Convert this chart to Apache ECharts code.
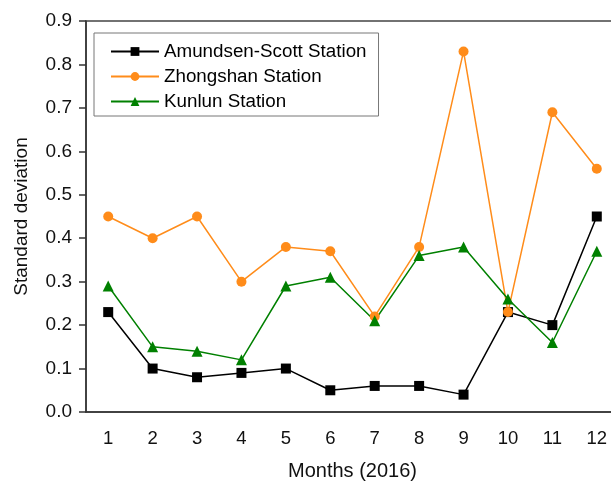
<!DOCTYPE html>
<html>
<head>
<meta charset="utf-8">
<script src="https://cdn.jsdelivr.net/npm/echarts@6/dist/echarts.min.js"></script>
<style>html,body{margin:0;padding:0;background:#fff}#c{width:611px;height:481px}</style>
</head>
<body>
<div id="c"></div>
<script>
const months = ['1','2','3','4','5','6','7','8','9','10','11','12'];
const amundsen = [0.23,0.10,0.08,0.09,0.10,0.05,0.06,0.06,0.04,0.23,0.20,0.45];
const zhongshan = [0.45,0.40,0.45,0.30,0.38,0.37,0.22,0.38,0.83,0.23,0.69,0.56];
const kunlun = [0.29,0.15,0.14,0.12,0.29,0.31,0.21,0.36,0.38,0.26,0.16,0.37];
const yTicks = { min: 0, max: 0.9, interval: 0.1 };

const FONT = 'Liberation Sans, Arial, sans-serif';
const chart = echarts.init(document.getElementById('c'));
function ser(name, data, color, symbol, size) {
  return {
    name, type: 'line', data, symbol, symbolSize: size,
    lineStyle: { color, width: 1.5 },
    itemStyle: { color },
    z: 3
  };
}
chart.setOption({
  animation: false,
  backgroundColor: '#fff',
  grid: { left: 86, right: -8, top: 21, bottom: 69, show: true, borderColor: '#444', borderWidth: 1.5,
          containLabel: false, outerBoundsMode: 'none' },
  legend: {
    orient: 'vertical', left: 94, top: 33,
    padding: [9, 12, 5, 16],
    itemWidth: 48, itemHeight: 11, itemGap: 6,
    borderColor: '#777', borderWidth: 1,
    textStyle: { fontFamily: FONT, fontSize: 18.8, color: '#000' },
    data: ['Amundsen-Scott Station','Zhongshan Station','Kunlun Station']
  },
  xAxis: {
    type: 'category', data: months, boundaryGap: true,
    name: 'Months (2016)', nameLocation: 'middle', nameGap: 49,
    nameTextStyle: { fontFamily: FONT, fontSize: 20, color: '#111' },
    axisLine: { lineStyle: { color: '#333', width: 1.5 } },
    axisTick: { alignWithLabel: true, length: 8, lineStyle: { color: '#333', width: 1.5 } },
    axisLabel: { fontFamily: FONT, fontSize: 18.5, color: '#111', margin: 17 },
    splitLine: { show: false }
  },
  yAxis: {
    type: 'value', min: yTicks.min, max: yTicks.max, interval: yTicks.interval,
    name: 'Standard deviation', nameLocation: 'middle', nameGap: 55,
    nameTextStyle: { fontFamily: FONT, fontSize: 19, color: '#111' },
    axisLine: { show: true, lineStyle: { color: '#333', width: 1.5 } },
    axisTick: { show: true, length: 7, lineStyle: { color: '#333', width: 1.5 } },
    axisLabel: { fontFamily: FONT, fontSize: 19, color: '#111', margin: 14, formatter: v => v.toFixed(1) },
    splitLine: { show: false }
  },
  series: [
    ser('Amundsen-Scott Station', amundsen, '#000000', 'rect', 10),
    ser('Zhongshan Station', zhongshan, '#ff8c1a', 'circle', 10),
    ser('Kunlun Station', kunlun, '#008000', 'triangle', 11)
  ]
});
</script>
</body>
</html>
